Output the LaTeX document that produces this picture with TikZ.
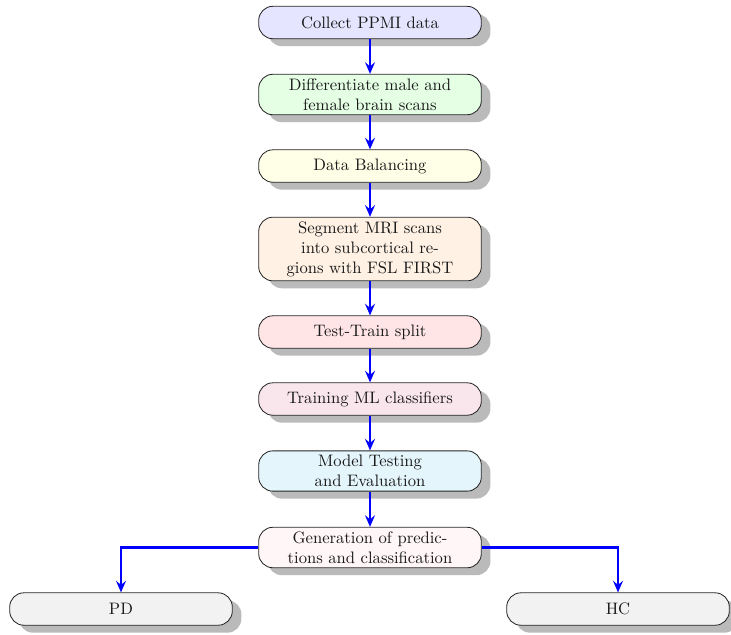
\documentclass[tikz,border=0pt]{standalone}
\usetikzlibrary{shadows,arrows.meta,positioning}
\definecolor{cmodel}{RGB}{228,245,252}
\tikzset{
  stepbox/.style={rectangle, rounded corners=8.5pt, draw=black!85, line width=0.5pt,
    minimum width=134pt, minimum height=19.5pt, inner xsep=3pt, inner ysep=2.6pt,
    align=center, text=black!90, font=\normalsize,
    drop shadow={shadow xshift=5.5pt, shadow yshift=-4.5pt, fill=black!27, opacity=1}},
  flow/.style={draw=blue, line width=1.3pt, -{Stealth[length=7pt,width=6pt,inset=2.5pt]}}
}
\begin{document}
\begin{tikzpicture}[x=0.602pt,y=-0.602pt]
\useasboundingbox (0,0) rectangle (731,634);
\node[stepbox, fill=blue!10] (c1) at (370,22.5) {Collect PPMI data};
\node[stepbox, fill=green!10] (c2) at (370,94.5) {Differentiate male and\\female brain scans};
\node[stepbox, fill=yellow!10] (c3) at (370,166) {Data Balancing};
\node[stepbox, fill=orange!10] (c4) at (370,249) {Segment MRI scans\\into subcortical re-\\gions with FSL FIRST};
\node[stepbox, fill=red!10] (c5) at (370,332) {Test-Train split};
\node[stepbox, fill=purple!10] (c6) at (370,399) {Training ML classifiers};
\node[stepbox, fill=cmodel] (c7) at (370,471) {Model Testing\\and Evaluation};
\node[stepbox, fill=red!3] (c8) at (370,547.5) {Generation of predic-\\tions and classification};
\node[stepbox, fill=black!5] (pd) at (121,609) {PD};
\node[stepbox, fill=black!5] (hc) at (618,609) {HC};
\draw[flow] (c1) -- (c2);
\draw[flow] (c2) -- (c3);
\draw[flow] (c3) -- (c4);
\draw[flow] (c4) -- (c5);
\draw[flow] (c5) -- (c6);
\draw[flow] (c6) -- (c7);
\draw[flow] (c7) -- (c8);
\draw[flow] (c8.west) -| (pd.north);
\draw[flow] (c8.east) -| (hc.north);
\end{tikzpicture}
\end{document}
